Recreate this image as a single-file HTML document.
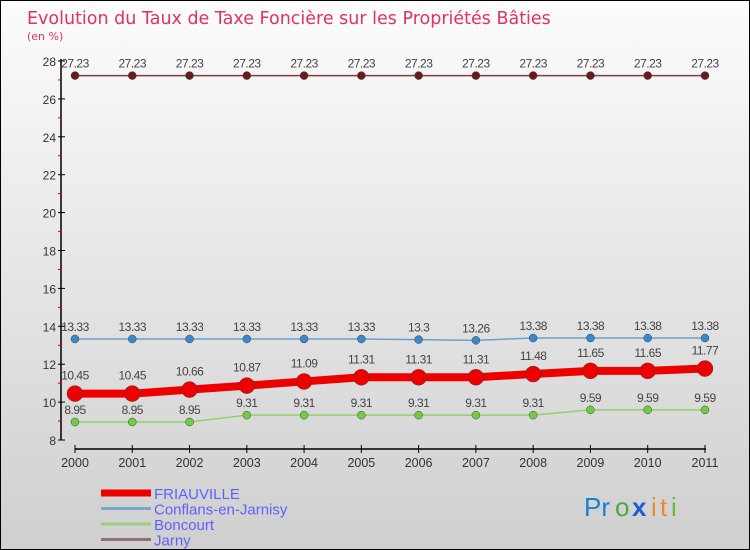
<!DOCTYPE html>
<html><head><meta charset="utf-8"><style>
body{margin:0}
#c{width:748px;height:548px;border:1px solid #000;background:linear-gradient(#fcfcfc,#cfcfcf);position:relative;font-family:"DejaVu Sans","Liberation Sans",sans-serif;overflow:hidden}
</style></head><body>
<div id="c">
<svg id="s" width="748" height="548" style="position:absolute;left:0;top:0">
<text x="26" y="23" font-size="17.5" fill="#e0306a">Evolution du Taux de Taxe Foncière sur les Propriétés Bâties</text>
<text x="26" y="39" font-size="11" fill="#e0306a">(en %)</text>
<g id="g"></g>
<g font-size="26" font-family="Liberation Sans, sans-serif">
<text x="583" y="515" fill="#1a7fd0">Pr</text><text x="614" y="515" fill="#4a4">o</text><text x="631" y="515" fill="#1a5fd0" font-weight="bold">x</text><text x="650" y="515" fill="#e83">i</text><text x="659" y="515" fill="#e83">t</text><text x="670" y="515" fill="#6b3">i</text>
</g>
</svg>
</div>
<script>
const years=[2000,2001,2002,2003,2004,2005,2006,2007,2008,2009,2010,2011];
const friauville=[10.45,10.45,10.66,10.87,11.09,11.31,11.31,11.31,11.48,11.65,11.65,11.77];
const conflans=[13.33,13.33,13.33,13.33,13.33,13.33,13.3,13.26,13.38,13.38,13.38,13.38];
const boncourt=[8.95,8.95,8.95,9.31,9.31,9.31,9.31,9.31,9.31,9.59,9.59,9.59];
const jarny=[27.23,27.23,27.23,27.23,27.23,27.23,27.23,27.23,27.23,27.23,27.23,27.23];
const yTicks=[8,10,12,14,16,18,20,22,24,26,28];
const names=["FRIAUVILLE","Conflans-en-Jarnisy","Boncourt","Jarny"];
const X=i=>74+i*57.27, Y=v=>439-(v-8)*18.95;
const g=document.getElementById('g'),NS="http://www.w3.org/2000/svg";
function el(t,a,p){const e=document.createElementNS(NS,t);for(const k in a)e.setAttribute(k,a[k]);(p||g).appendChild(e);return e;}
let e;
e=el('line',{x1:60,y1:58,x2:60,y2:439,stroke:'#000','stroke-width':1.5});


e=el('line',{x1:74,y1:448,x2:705,y2:448,stroke:'#000','stroke-width':1.5});


yTicks.forEach(v=>{
 el('line',{x1:57,x2:64,y1:Y(v),y2:Y(v),stroke:'#000'});
 if(v<28)el('line',{x1:57,x2:61,y1:Y(v+1),y2:Y(v+1),stroke:'#d00'});
 e=el('text',{x:55,y:Y(v)+5,'font-size':12,'text-anchor':'end',fill:'#333','font-family':'Liberation Sans, sans-serif'});
 e.textContent=v;
 
 
});
years.forEach((y,i)=>{
 el('line',{x1:X(i),x2:X(i),y1:444,y2:452,stroke:'#000'});
 e=el('text',{x:X(i),y:466,'font-size':12.5,'text-anchor':'middle',fill:'#333','font-family':'Liberation Sans, sans-serif'});
 e.textContent=y;
 
 
});
const series=[[jarny,'#7a4040','#6a1a1a',1.5,4,'jarny'],[conflans,'#6aa0cc','#3a88cc',1.5,4,'conflans'],[boncourt,'#90d070','#70cc40',1.5,4,'boncourt'],[friauville,'#ee0000','#ee0000',8,8,'friauville']];
series.forEach(([d,lc,pc,w,r,n])=>{
 e=el('polyline',{points:d.map((v,i)=>X(i)+','+Y(v)).join(' '),fill:'none',stroke:lc,'stroke-width':w});
 
 
 d.forEach((v,i)=>{
  e=el('circle',{cx:X(i),cy:Y(v),r:r,fill:pc,stroke:'#444','stroke-width':0.5});
  
  
  e=el('text',{x:X(i),y:Y(v)-8-(r>5?6:0),'font-size':12,'text-anchor':'middle',fill:'#444','font-family':'Liberation Sans, sans-serif','letter-spacing':'-0.5'});
  e.textContent=v;
  
  
 });
});
const lc=['#ee0000','#7aa8cc','#9ad080','#907070'],lw=[7,3,3,3];
names.forEach((n,i)=>{
 const y=492+i*15.5;
 e=el('line',{x1:100,x2:150,y1:y,y2:y,stroke:lc[i],'stroke-width':lw[i]});
 
 
 e=el('text',{x:153,y:y+6,'font-size':15,fill:'#6060ff','font-family':'Liberation Sans, sans-serif'});
 e.textContent=n;
 
 
});
</script>
</body></html>
